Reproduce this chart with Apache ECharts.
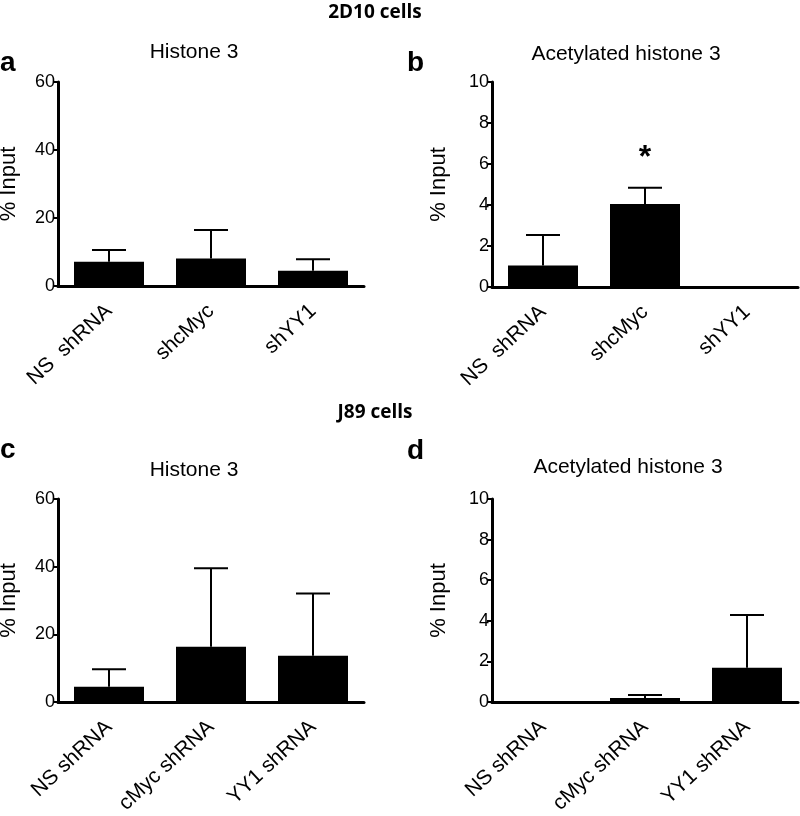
<!DOCTYPE html>
<html><head><meta charset="utf-8">
<script src="https://cdn.jsdelivr.net/npm/echarts@6/dist/echarts.min.js"></script>
<style>html,body{margin:0;padding:0;background:#fff}#c{width:800px;height:816px}</style>
</head><body><div id="c"></div>
<script>
// ---- data ----
const catsTop = ['NS  shRNA', 'shcMyc', 'shYY1'];
const catsBottom = ['NS shRNA', 'cMyc shRNA', 'YY1 shRNA'];
const aMean = [7.1, 8.1, 4.5];
const aUpper = [10.6, 16.5, 7.9];
const bMean = [1.05, 4.05, 0];
const bUpper = [2.54, 4.84, 0];
const bSig = ['', '*', ''];
const cMean = [4.5, 16.3, 13.7];
const cUpper = [9.7, 39.5, 32.1];
const dMean = [0.05, 0.2, 1.69];
const dUpper = [0.05, 0.35, 4.29];
const histTicksMax = 60, histInterval = 20;
const acetTicksMax = 10, acetInterval = 2;

const FONT = 'Liberation Sans';
const grids = [
  {left: 58, top: 82, width: 306, height: 204, outerBoundsMode: 'none', containLabel: false},
  {left: 492, top: 82, width: 306, height: 205, outerBoundsMode: 'none', containLabel: false},
  {left: 58, top: 499, width: 306, height: 203, outerBoundsMode: 'none', containLabel: false},
  {left: 492, top: 499, width: 306, height: 203, outerBoundsMode: 'none', containLabel: false}
];
const panels = [
  {cats: catsTop, mean: aMean, upper: aUpper, sig: null, max: histTicksMax, iv: histInterval, gap: 38},
  {cats: catsTop, mean: bMean, upper: bUpper, sig: bSig, max: acetTicksMax, iv: acetInterval, gap: 42},
  {cats: catsBottom, mean: cMean, upper: cUpper, sig: null, max: histTicksMax, iv: histInterval, gap: 38},
  {cats: catsBottom, mean: dMean, upper: dUpper, sig: null, max: acetTicksMax, iv: acetInterval, gap: 42}
];
const xAxis = [], yAxis = [], series = [];
panels.forEach((p, i) => {
  xAxis.push({
    type: 'category', gridIndex: i, data: p.cats,
    axisLine: {lineStyle: {color: '#000', width: 3}},
    axisTick: {alignWithLabel: true, length: 8, lineStyle: {color: '#000', width: 3}},
    axisLabel: {rotate: 43, fontFamily: FONT, fontSize: 21, color: '#000', margin: 22}
  });
  yAxis.push({
    type: 'value', gridIndex: i, min: 0, max: p.max, interval: p.iv,
    name: '% Input', nameLocation: 'middle', nameGap: p.gap,
    nameTextStyle: {fontFamily: FONT, fontSize: 22, color: '#000'},
    splitLine: {show: false},
    axisLine: {show: true, lineStyle: {color: '#000', width: 3}},
    axisTick: {show: true, length: 5, lineStyle: {color: '#000', width: 2}},
    axisLabel: {fontFamily: FONT, fontSize: 18, color: '#000', margin: 3}
  });
  series.push({
    type: 'bar', xAxisIndex: i, yAxisIndex: i, data: p.mean,
    barWidth: 70, itemStyle: {color: '#000'}, silent: true
  });
  series.push({
    type: 'custom', xAxisIndex: i, yAxisIndex: i,
    data: p.mean.map((m, k) => [k, m, p.upper[k], p.sig ? p.sig[k] : '']),
    renderItem: function (params, api) {
      const x = api.value(0);
      const lo = api.coord([x, api.value(1)]);
      const hi = api.coord([x, api.value(2)]);
      const half = 17;
      const children = [];
      if (api.value(2) > api.value(1)) {
        children.push({type: 'line', shape: {x1: lo[0], y1: lo[1], x2: hi[0], y2: hi[1]}, style: {stroke: '#000', lineWidth: 2}});
        children.push({type: 'line', shape: {x1: hi[0] - half, y1: hi[1], x2: hi[0] + half, y2: hi[1]}, style: {stroke: '#000', lineWidth: 2}});
      }
      const s = api.value(3);
      if (s) {
        children.push({type: 'text', x: hi[0], y: hi[1] - 30, style: {text: s, font: 'bold 32px ' + FONT, fill: '#000', align: 'center', verticalAlign: 'middle'}});
      }
      return {type: 'group', children: children};
    },
    z: 5, silent: true
  });
});

function ttl(text, left, top, size, bold, family) {
  return {text: text, left: left, top: top, padding: 0, textAlign: left > 100 ? 'center' : 'left',
    textStyle: {fontFamily: family || FONT, fontWeight: bold ? 'bold' : 'normal', fontSize: size, color: '#000'}};
}
const titles = [
  ttl('2D10 cells', 375, 3, 19, true, 'Open Sans'),
  ttl('J89 cells', 375, 403, 19, true, 'Open Sans'),
  ttl('Histone 3', 194, 42, 21, false),
  ttl('Acetylated histone 3', 626, 44, 21, false),
  ttl('Histone 3', 194, 460, 21, false),
  ttl('Acetylated histone 3', 628, 457, 21, false),
  ttl('a', 0, 49, 28, true),
  {text: 'b', left: 407, top: 49, padding: 0, textStyle: {fontFamily: FONT, fontWeight: 'bold', fontSize: 28, color: '#000'}},
  ttl('c', 0, 436, 28, true),
  {text: 'd', left: 407, top: 437, padding: 0, textStyle: {fontFamily: FONT, fontWeight: 'bold', fontSize: 28, color: '#000'}}
];

const chart = echarts.init(document.getElementById('c'), null, {renderer: 'canvas'});
chart.setOption({
  animation: false,
  backgroundColor: '#fff',
  title: titles,
  grid: grids,
  xAxis: xAxis,
  yAxis: yAxis,
  series: series
});
</script></body></html>
